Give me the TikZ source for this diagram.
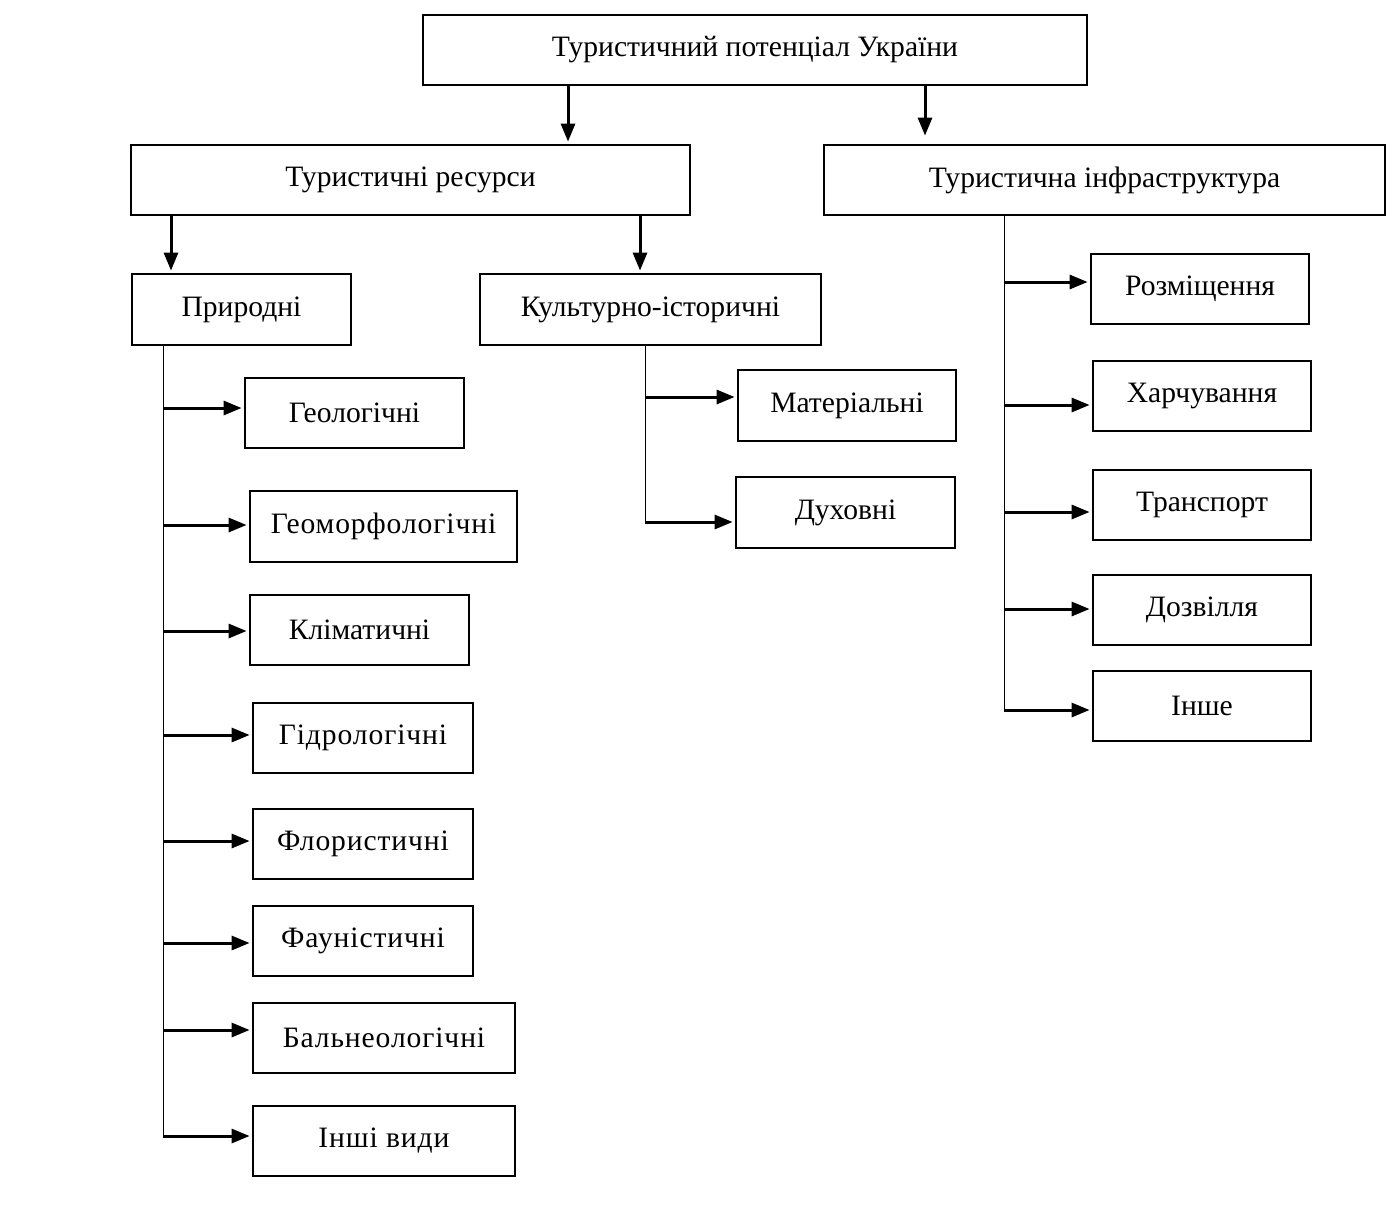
\documentclass[tikz,border=0pt]{standalone}
\usepackage{fontspec}
\setmainfont{Liberation Serif}
\newfontfamily\widefont[LetterSpace=3]{Liberation Serif}
\usetikzlibrary{arrows.meta}
\tikzset{
  bx/.style 2 args={draw, line width=1.4pt, inner sep=0pt, minimum width=#1*0.5pt, minimum height=#2*0.5pt, font=\fontsize{14.8}{17}\selectfont},
  arr/.style={line width=1.5pt, -{Triangle[length=9pt,width=7pt]}, shorten >=1pt},
  thin/.style={line width=0.5pt}
}
\begin{document}
\begin{tikzpicture}[x=0.5pt,y=-0.5pt]
\useasboundingbox (0,0) rectangle (1396,1205);
% boxes
\node[bx={664}{70}] (top) at (755,50) {Туристичний потенціал України};
\node[bx={559}{70}] (res) at (410.5,180) {Туристичні ресурси};
\node[bx={561}{70}] (inf) at (1104.5,180) {Туристична інфраструктура};
\node[bx={219}{71}] (prir) at (241.5,309.5) {Природні};
\node[bx={341}{71}] (kult) at (650.5,309.5) {Культурно-історичні};
\node[bx={219}{70}] (geol) at (354.5,413) {Геологічні};
\node[bx={267}{71}] (geom) at (383.5,526.5) {\widefont Геоморфологічні};
\node[bx={219}{70}] (klim) at (359.5,630) {Кліматичні};
\node[bx={220}{70}] (gidr) at (363,738) {\widefont Гідрологічні};
\node[bx={220}{70}] (flor) at (363,844) {\widefont Флористичні};
\node[bx={220}{70}] (faun) at (363,941) {\widefont Фауністичні};
\node[bx={262}{70}] (baln) at (384,1038) {\widefont Бальнеологічні};
\node[bx={262}{70}] (inshi) at (384,1141) {\widefont Інші види};
\node[bx={218}{71}] (mat) at (847,405.5) {Матеріальні};
\node[bx={219}{71}] (duh) at (845.5,512.5) {Духовні};
\node[bx={218}{70}] (rozm) at (1200,289) {Розміщення};
\node[bx={218}{70}] (harch) at (1202,396) {Харчування};
\node[bx={218}{70}] (trans) at (1202,505) {Транспорт};
\node[bx={218}{70}] (dozv) at (1202,610) {Дозвілля};
\node[bx={218}{70}] (inshe) at (1202,706) {Інше};
% x positions
\coordinate (xa) at (568,0);
\coordinate (xb) at (925,0);
\coordinate (xc) at (171,0);
\coordinate (xd) at (640,0);
\coordinate (pl) at (163,0);
\coordinate (kl) at (645,0);
\coordinate (il) at (1004,0);
% top level arrows
\draw[arr] (xa |- top.south) -- (xa |- res.north);
\draw[arr] (xb |- top.south) -- ([yshift=3pt]xb |- inf.north);
\draw[arr] (xc |- res.south) -- (xc |- prir.north);
\draw[arr] (xd |- res.south) -- (xd |- kult.north);
% arrow targets
\path ([yshift=2.5pt]geol.west) coordinate (t1)
      ([yshift=0.75pt]geom.west) coordinate (t2)
      ([yshift=-0.5pt]klim.west) coordinate (t3)
      ([yshift=1.5pt]gidr.west) coordinate (t4)
      ([yshift=1.5pt]flor.west) coordinate (t5)
      ([yshift=-1pt]faun.west) coordinate (t6)
      ([yshift=4pt]baln.west) coordinate (t7)
      ([yshift=2.5pt]inshi.west) coordinate (t8)
      ([yshift=4.25pt]mat.west) coordinate (m1)
      ([yshift=-4.75pt]duh.west) coordinate (m2)
      ([yshift=3.5pt]rozm.west) coordinate (r1)
      ([yshift=-4.5pt]harch.west) coordinate (r2)
      ([yshift=-3.5pt]trans.west) coordinate (r3)
      ([yshift=0.5pt]dozv.west) coordinate (r4)
      ([yshift=-2pt]inshe.west) coordinate (r5);
% vertical lines
\draw[thin] (pl |- prir.south) -- (pl |- t8);
\draw[thin] (kl |- kult.south) -- (kl |- m2);
\draw[thin] (il |- inf.south) -- (il |- r5);
% branch arrows
\foreach \t in {t1,t2,t3,t4,t5,t6,t7,t8}
  \draw[arr] (pl |- \t) -- (\t);
\foreach \t in {m1,m2}
  \draw[arr] (kl |- \t) -- (\t);
\foreach \t in {r1,r2,r3,r4,r5}
  \draw[arr] (il |- \t) -- (\t);
\end{tikzpicture}
\end{document}
